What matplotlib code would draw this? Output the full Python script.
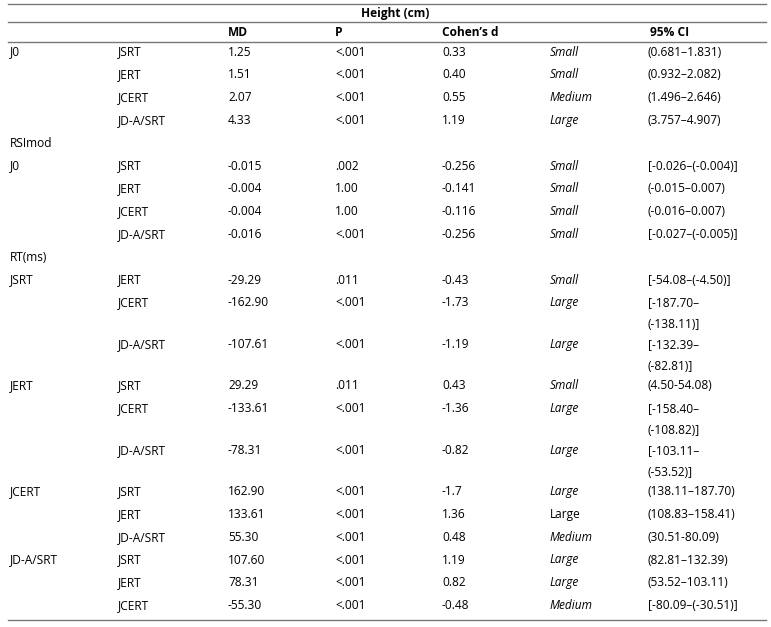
import matplotlib
matplotlib.use("Agg")
import matplotlib.pyplot as plt

plt.rcParams['font.family'] = ['Open Sans', 'DejaVu Sans']

groups = ["J0", "", "", "", "RSImod", "J0", "", "", "", "RT(ms)", "JSRT", "", "", "JERT", "", "", "JCERT", "", "", "JD-A/SRT", "", ""]
comps = ["JSRT", "JERT", "JCERT", "JD-A/SRT", "", "JSRT", "JERT", "JCERT", "JD-A/SRT", "", "JERT", "JCERT", "JD-A/SRT",
         "JSRT", "JCERT", "JD-A/SRT", "JSRT", "JERT", "JD-A/SRT", "JSRT", "JERT", "JCERT"]
md = ["1.25", "1.51", "2.07", "4.33", "", "-0.015", "-0.004", "-0.004", "-0.016", "", "-29.29", "-162.90", "-107.61",
      "29.29", "-133.61", "-78.31", "162.90", "133.61", "55.30", "107.60", "78.31", "-55.30"]
pv = ["<.001", "<.001", "<.001", "<.001", "", ".002", "1.00", "1.00", "<.001", "", ".011", "<.001", "<.001",
      ".011", "<.001", "<.001", "<.001", "<.001", "<.001", "<.001", "<.001", "<.001"]
cd = ["0.33", "0.40", "0.55", "1.19", "", "-0.256", "-0.141", "-0.116", "-0.256", "", "-0.43", "-1.73", "-1.19",
      "0.43", "-1.36", "-0.82", "-1.7", "1.36", "0.48", "1.19", "0.82", "-0.48"]
eff = ["Small", "Small", "Medium", "Large", "", "Small", "Small", "Small", "Small", "", "Small", "Large", "Large",
       "Small", "Large", "Large", "Large", "Large", "Medium", "Large", "Large", "Medium"]
eff_italic = [True]*17 + [False] + [True]*4
ci = ["(0.681–1.831)", "(0.932–2.082)", "(1.496–2.646)", "(3.757–4.907)", "",
      "[-0.026–(-0.004)]", "(-0.015–0.007)", "(-0.016–0.007)", "[-0.027–(-0.005)]", "",
      "[-54.08–(-4.50)]", "[-187.70–\n(-138.11)]", "[-132.39–\n(-82.81)]",
      "(4.50-54.08)", "[-158.40–\n(-108.82)]", "[-103.11–\n(-53.52)]",
      "(138.11–187.70)", "(108.83–158.41)", "(30.51-80.09)",
      "(82.81–132.39)", "(53.52–103.11)", "[-80.09–(-30.51)]"]

W, H = 771, 627
fig = plt.figure(figsize=(W/100, H/100), dpi=100)
ax = fig.add_axes([0, 0, 1, 1])
ax.set_xlim(0, W)
ax.set_ylim(H, 0)
ax.axis('off')

fs = 8.6
col_x = [10, 118, 228, 335, 442, 550, 648]
lc = '#777777'
for y in (4, 22, 42, 620):
    ax.plot([8, 766], [y, y], color=lc, lw=1)

ax.text(395, 13, "Height (cm)", ha='center', va='center', fontsize=fs, fontweight='bold')
for x, t in zip([228, 335, 442, 650], ["MD", "P", "Cohen’s d", "95% CI"]):
    ax.text(x, 32, t, ha='left', va='center', fontsize=fs, fontweight='bold')

y = 52
for i in range(len(comps)):
    vals = [groups[i], comps[i], md[i], pv[i], cd[i], eff[i], ci[i]]
    for j, (x, t) in enumerate(zip(col_x, vals)):
        style = 'italic' if (j == 5 and eff_italic[i]) else 'normal'
        for k, line in enumerate(t.split('\n')):
            ax.text(x, y + 22 * k, line, ha='left', va='center', fontsize=fs, fontstyle=style)
    y += 41.5 if '\n' in ci[i] else 22.8

fig.savefig("out.png", dpi=100)
